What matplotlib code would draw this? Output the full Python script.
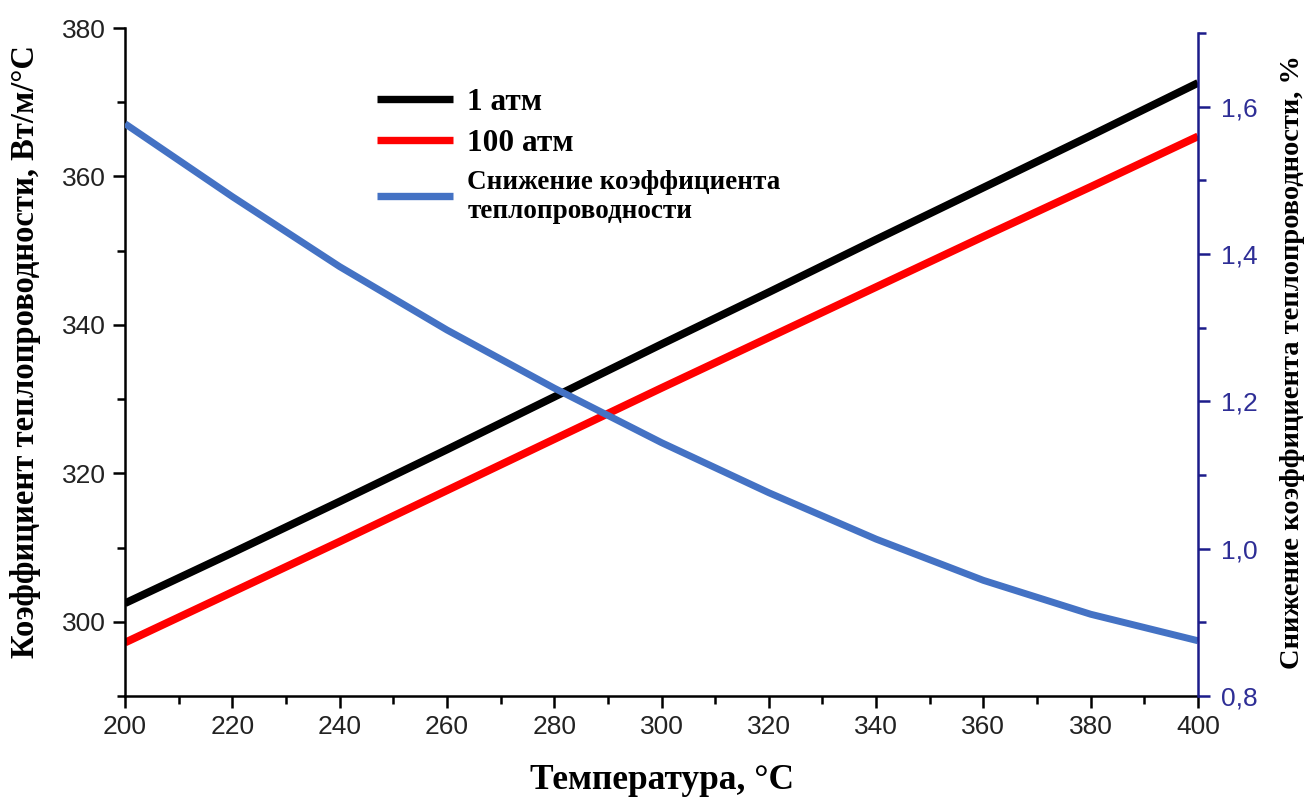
import matplotlib.pyplot as plt
from matplotlib.ticker import MultipleLocator, AutoMinorLocator, FuncFormatter

# Температура, °C
temperature = [200, 220, 240, 260, 280, 300, 320, 340, 360, 380, 400]
# Коэффициент теплопроводности, Вт/м/°C
k_1atm = [302.5, 309.3, 316.2, 323.2, 330.3, 337.4, 344.4, 351.5, 358.5, 365.5, 372.6]
k_100atm = [297.2, 304.0, 310.8, 317.7, 324.6, 331.5, 338.3, 345.1, 351.9, 358.6, 365.4]
# Снижение коэффициента, %
reduction = [1.577, 1.478, 1.383, 1.297, 1.218, 1.144, 1.076, 1.013, 0.957, 0.911, 0.875]

NAVY = "#1c1c8a"
BLUE = "#4472c4"
serif = "Liberation Serif"
sans = "Liberation Sans"

fig = plt.figure(figsize=(13.08, 8.0), dpi=100)
ax = fig.add_axes([0.0956, 0.13, 0.8203, 0.835])
ax2 = ax.twinx()

l1, = ax.plot(temperature, k_1atm, color="black", lw=5.6, solid_capstyle="butt", label="1 атм")
l2, = ax.plot(temperature, k_100atm, color="#ff0000", lw=5.6, solid_capstyle="butt", label="100 атм")
l3, = ax2.plot(temperature, reduction, color=BLUE, lw=5.0, solid_capstyle="butt",
               solid_joinstyle="round", label="Снижение коэффициента\nтеплопроводности")

ax.set_xlim(200, 400)
ax.set_ylim(290, 380)
ax2.set_ylim(0.8, 1.707)

for a in (ax, ax2):
    a.spines["top"].set_visible(False)
ax.spines["right"].set_visible(False)
ax2.spines["left"].set_visible(False)
ax2.spines["bottom"].set_visible(False)
ax2.spines["right"].set_color(NAVY)
ax2.spines["right"].set_bounds(0.8, 1.7)
for s in ("left", "bottom"):
    ax.spines[s].set_linewidth(1.8)
ax2.spines["right"].set_linewidth(1.8)

ax.xaxis.set_major_locator(MultipleLocator(20))
ax.xaxis.set_minor_locator(AutoMinorLocator(2))
ax.yaxis.set_major_locator(MultipleLocator(20))
ax.yaxis.set_minor_locator(AutoMinorLocator(2))
ax2.yaxis.set_major_locator(MultipleLocator(0.2))
ax2.yaxis.set_minor_locator(AutoMinorLocator(2))
ax2.yaxis.set_major_formatter(FuncFormatter(lambda v, p: f"{v:.1f}".replace(".", ",")))

ax.tick_params(which="major", direction="out", length=8.5, width=1.8, labelsize=19, pad=5)
ax.tick_params(which="minor", direction="out", length=5.5, width=1.8)
ax2.tick_params(which="major", direction="out", length=8.5, width=1.8, labelsize=19,
                colors=NAVY, pad=8)
ax2.tick_params(which="minor", direction="out", length=5.5, width=1.8, colors=NAVY)
for lbl in ax.get_xticklabels() + ax.get_yticklabels() + ax2.get_yticklabels():
    lbl.set_fontfamily(sans)
for lbl in ax.get_xticklabels() + ax.get_yticklabels():
    lbl.set_color("#222222")
for lbl in ax2.get_yticklabels():
    lbl.set_color("#2e2e96")

ax.set_xlabel("Температура, °С", fontfamily=serif, fontweight="bold", fontsize=25.5, labelpad=18)
ax.set_ylabel("Коэффициент теплопроводности, Вт/м/°С", fontfamily=serif, fontweight="bold",
              fontsize=23.5)
ax.yaxis.set_label_coords(-0.078, 0.515)
ax2.set_ylabel("Снижение коэффициента теплопроводности, %", fontfamily=serif,
               fontweight="bold", fontsize=20.5, labelpad=16, rotation=90)

leg = ax.legend(handles=[l1, l2, l3], loc="upper left", bbox_to_anchor=(0.288, 1 - 88 / 800),
                bbox_transform=fig.transFigure, frameon=False, borderpad=0,
                borderaxespad=0, handlelength=2.45, handletextpad=0.45, labelspacing=0.38,
                prop={"family": serif, "weight": "bold", "size": 22.5})
texts = leg.get_texts()
texts[2].set_fontsize(19.5)
texts[2].set_linespacing(1.25)
for h in leg.legend_handles:
    h.set_linewidth(5.3)

fig.savefig("out.png", dpi=100)
